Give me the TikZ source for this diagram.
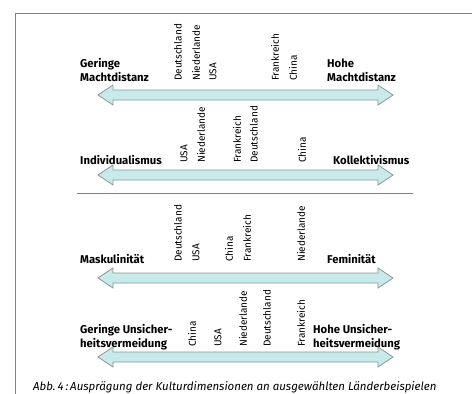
\documentclass[tikz,border=0pt]{standalone}
\usepackage{fontspec}
\setmainfont{Fira Sans}
\definecolor{arrfill}{RGB}{200,234,234}
\definecolor{arrdraw}{RGB}{140,150,150}
\definecolor{framec}{RGB}{130,130,130}
\begin{document}
\begin{tikzpicture}[x=1pt,y=-1pt,
  dimlabel/.style={font=\bfseries\fontsize{11.3}{14}\selectfont, anchor=west, inner sep=0pt, align=left},
  country/.style={font=\fontsize{10}{10}\selectfont, rotate=90, anchor=west, inner sep=0pt},
  arrowshape/.style={fill=arrfill, draw=arrdraw, line width=0.8pt, line join=miter},
  frameline/.style={draw=framec, line width=1pt}]
\useasboundingbox (0,0) rectangle (472,394);
\fill[white] (0,0) rectangle (472,394);
% frame
\coordinate (fa) at (15,394);
\coordinate (fb) at (15,13);
\coordinate (fc) at (472,13);
\draw[frameline] (fa) -- (fb) -- (fc);
% arrows
\newcommand{\dblarr}[2]{%
  \draw[arrowshape] (98,#1) -- (113,#1-10) -- (113,#1-5) -- (378,#1-5) -- (378,#1-10)
    -- (393,#1) -- (378,#1+10) -- (378,#1+5) -- (113,#1+5) -- (113,#1+10) -- cycle;
  \coordinate (#2) at (245,#1);}
\dblarr{95}{arr1}
\dblarr{175}{arr2}
\dblarr{278}{arr3}
\dblarr{357}{arr4}
% separator
\coordinate (sepa) at (77,193);
\coordinate (sepb) at (413,193);
\draw[frameline] (sepa) -- (sepb);
% row 1
\node[dimlabel] (l1) at (80,70) {Geringe\\Machtdistanz};
\node[dimlabel] (r1) at (327,70) {Hohe\\Machtdistanz};
\node[country] (c11) at (178,81) {Deutschland};
\node[country] (c12) at (196,81) {Niederlande};
\node[country] (c13) at (213,81) {USA};
\node[country] (c14) at (275,81) {Frankreich};
\node[country] (c15) at (293,81) {China};
% row 2
\node[dimlabel] (l2) at (80,160) {Individualismus};
\node[dimlabel] (r2) at (333,160) {Kollektivismus};
\node[country] (c21) at (184,163) {USA};
\node[country] (c22) at (201,163) {Niederlande};
\node[country] (c23) at (237,163) {Frankreich};
\node[country] (c24) at (254,163) {Deutschland};
\node[country] (c25) at (302,163) {China};
% row 3
\node[dimlabel] (l3) at (80,259) {Maskulinität};
\node[dimlabel] (r3) at (327,259) {Feminität};
\node[country] (c31) at (178,262) {Deutschland};
\node[country] (c32) at (196,262) {USA};
\node[country] (c33) at (229,262) {China};
\node[country] (c34) at (247,262) {Frankreich};
\node[country] (c35) at (301,262) {Niederlande};
% row 4
\node[dimlabel] (l4) at (80,337) {Geringe Unsicher-\\heitsvermeidung};
\node[dimlabel] (r4) at (313,337) {Hohe Unsicher-\\heitsvermeidung};
\node[country] (c41) at (192,347) {China};
\node[country] (c42) at (218,347) {USA};
\node[country] (c43) at (243,347) {Niederlande};
\node[country] (c44) at (267,347) {Deutschland};
\node[country] (c45) at (301,347) {Frankreich};
% caption
\node[font=\itshape\fontsize{11.5}{12}\selectfont, anchor=west, inner sep=0pt] (cap) at (33,387)
  {Abb.\,4\,:\,Ausprägung der Kulturdimensionen an ausgewählten Länderbeispielen};
\end{tikzpicture}
\end{document}
